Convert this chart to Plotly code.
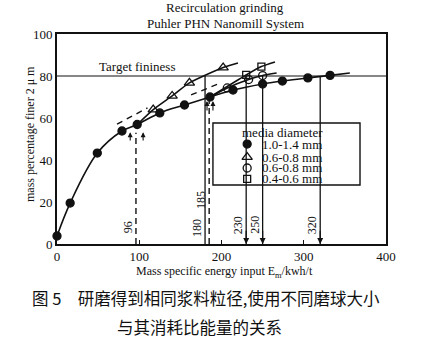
import plotly.graph_objects as go

# Media diameter 1.0-1.4 mm (filled circles)
big_x = [0, 16, 49, 79, 97.5, 125, 155, 186, 214, 250, 274, 305, 332]
big_y = [3.8, 19.5, 43.3, 53.8, 56.9, 62.4, 66.2, 70, 73.3, 76.2, 77.6, 79.1, 80.3]
big_tail = (356, 81.4)

# Media diameter 0.6-0.8 mm (open triangles), branching from the 96 kWh/t point
tri_x = [117, 140, 161, 202]
tri_y = [64, 70.5, 76.7, 84]
tri_start = (97.5, 56.9)
tri_tail = (220, 86.2)

# Media diameter 0.6-0.8 mm (open circles), branching from the 185 kWh/t point
ring_x = [207, 233, 250]
ring_y = [74.3, 78.3, 80.2]
ring_start = (186, 70)
ring_tail = (267, 81.4)

# Media diameter 0.4-0.6 mm (open squares)
sq_x = [230, 248.5]
sq_y = [80.5, 84.5]
sq_start = (186, 70)
sq_tail = (265, 86.7)

# Tangent construction lines (dashed)
tan1_x, tan1_y = [73, 110], [57.1, 64.8]
tan2_x, tan2_y = [163, 198], [71, 76.5]

target = 80
# Energy needed to reach the target fineness (solid drop lines)
solid_drop = [180, 230, 250, 320]
arrow_drop = [230, 250, 320]
# Optimum energy points (dashed drop lines) and their tops
dash_drop = [96, 185]
dash_top = [53, 68.5]
# Small arrows pointing at the optimum points
pointer_x = [89, 104.7, 182.4, 189.6]
pointer_lo = [48.6, 48.6, 62.9, 62.9]
pointer_hi = [53.2, 53.2, 68.1, 68.1]
# Drop-line value labels: text, x of the line, y position
drop_labels = [("96", 96, 8), ("180", 180, 7.6), ("185", 185, 21),
               ("230", 230, 9), ("250", 250, 9), ("320", 320, 9)]

legend_names = ["1.0-1.4 mm", "0.6-0.8 mm", "0.6-0.8 mm", "0.4-0.6 mm"]
legend_symbols = ["circle", "triangle-up-open", "circle-open", "square-open"]

SERIF = "Liberation Serif, Times New Roman, serif"
BLACK = "#111111"
LW = 1.6
SIZES = {"circle": 8, "triangle-up-open": 9, "circle-open": 8, "square-open": 7}

fig = go.Figure()


def series_line(xs, ys, smoothing):
    fig.add_trace(go.Scatter(x=xs, y=ys, mode="lines",
                             line=dict(color=BLACK, width=LW, shape="spline", smoothing=smoothing),
                             hoverinfo="skip", showlegend=False, cliponaxis=False))


def marker_style(symbol):
    return dict(symbol=symbol, size=SIZES[symbol], color=BLACK,
                line=dict(color=BLACK, width=1.3))


def series_marks(xs, ys, symbol):
    fig.add_trace(go.Scatter(x=xs, y=ys, mode="markers", marker=marker_style(symbol),
                             showlegend=False, cliponaxis=False))


series_line(big_x + [big_tail[0]], big_y + [big_tail[1]], 1.0)
series_line([tri_start[0]] + tri_x + [tri_tail[0]], [tri_start[1]] + tri_y + [tri_tail[1]], 0.6)
series_line([ring_start[0]] + ring_x + [ring_tail[0]], [ring_start[1]] + ring_y + [ring_tail[1]], 0.6)
series_line([sq_start[0]] + sq_x + [sq_tail[0]], [sq_start[1]] + sq_y + [sq_tail[1]], 0.6)

for tx, ty in [(tan1_x, tan1_y), (tan2_x, tan2_y)]:
    fig.add_trace(go.Scatter(x=tx, y=ty, mode="lines",
                             line=dict(color=BLACK, width=1.4, dash="6px,5px"),
                             hoverinfo="skip", showlegend=False))

series_marks(big_x, big_y, "circle")
series_marks(tri_x, tri_y, "triangle-up-open")
series_marks(ring_x, ring_y, "circle-open")
series_marks(sq_x, sq_y, "square-open")

shapes = []
# Target fineness line
shapes.append(dict(type="line", xref="paper", yref="y", x0=0, x1=1, y0=target, y1=target,
                   line=dict(color=BLACK, width=1.1), layer="below"))
for xv in solid_drop:
    shapes.append(dict(type="line", xref="x", yref="y", x0=xv, x1=xv, y0=0, y1=target,
                       line=dict(color=BLACK, width=1.3), layer="below"))
for xv, top in zip(dash_drop, dash_top):
    shapes.append(dict(type="line", xref="x", yref="y", x0=xv, x1=xv, y0=0, y1=top,
                       line=dict(color=BLACK, width=1.4, dash="6px,4px"), layer="below"))

# Legend frame
LX0, LX1, LY0, LY1 = 0.474, 0.921, 0.281, 0.576
shapes.append(dict(type="rect", xref="paper", yref="paper", x0=LX0, x1=LX1, y0=LY0, y1=LY1,
                   fillcolor="white", line=dict(color=BLACK, width=1.4), layer="below"))

# Legend keys on an overlay axis spanning the plot area
key_x = 0.578
key_rows = [0.476, 0.414, 0.362, 0.310]
for sym, ry in zip(legend_symbols, key_rows):
    fig.add_trace(go.Scatter(x=[key_x], y=[ry], xaxis="x2", yaxis="y2", mode="markers",
                             marker=marker_style(sym), showlegend=False, hoverinfo="skip"))

ann = []


def text(x, y, s, size=13, family=SERIF, xref="paper", yref="paper", **kw):
    d = dict(xref=xref, yref=yref, x=x, y=y, text=s, showarrow=False,
             xanchor=kw.pop("xanchor", "center"), yanchor="middle",
             font=dict(family=family, size=size, color=BLACK))
    d.update(kw)
    ann.append(d)


text(0.684, 0.533, "media diameter")
for name, ry in zip(legend_names, key_rows):
    text(0.617, ry, name, xanchor="left")

text(49, 84.3, "Target fininess", xref="x", yref="y", xanchor="left")

for s, xv, yv in drop_labels:
    text(xv, yv, s, size=12, xref="x", yref="y", textangle=-90, xshift=-8)

for xv in arrow_drop:
    ann.append(dict(xref="x", yref="y", x=xv, y=0, ax=xv, ay=7, axref="x", ayref="y",
                    text="", showarrow=True, arrowhead=2, arrowsize=1, arrowwidth=1.2,
                    arrowcolor=BLACK, standoff=0))
for xv, lo, hi in zip(pointer_x, pointer_lo, pointer_hi):
    ann.append(dict(xref="x", yref="y", x=xv, y=hi, ax=xv, ay=lo, axref="x", ayref="y",
                    text="", showarrow=True, arrowhead=2, arrowsize=0.9, arrowwidth=1.1,
                    arrowcolor=BLACK, standoff=0))

# Titles and caption
text(0.511, 1.124, "Recirculation grinding")
text(0.511, 1.048, "Puhler PHN Nanomill System")
text(-0.082, 0.524, "mass percentage finer 2 μ m", size=12, textangle=-90)
text(0.508, -0.133, "Mass specific energy input E<sub>m</sub>/kwh/t", size=12)
text(0.453, -0.257, "图 5　研磨得到相同浆料粒径,使用不同磨球大小", size=16.5, family="Noto Sans CJK SC")
text(0.432, -0.395, "与其消耗比能量的关系", size=16.5, family="Noto Sans CJK SC")

axis_common = dict(showline=True, linecolor=BLACK, linewidth=1.6, mirror=True, showgrid=False,
                   zeroline=False, tickfont=dict(family=SERIF, size=13, color=BLACK))
fig.update_layout(
    width=427, height=341,
    margin=dict(l=57, r=41, t=34, b=97),
    paper_bgcolor="white", plot_bgcolor="white",
    xaxis=dict(range=[0, 400], tickvals=[0, 100, 200, 300, 400], ticks="inside", ticklen=4,
               tickcolor=BLACK, **axis_common),
    yaxis=dict(range=[0, 100], tickvals=[0, 20, 40, 60, 80, 100], ticks="", **axis_common),
    xaxis2=dict(overlaying="x", range=[0, 1], visible=False),
    yaxis2=dict(overlaying="y", range=[0, 1], visible=False),
    shapes=shapes, annotations=ann, showlegend=False,
)

fig.write_html("out.html")
